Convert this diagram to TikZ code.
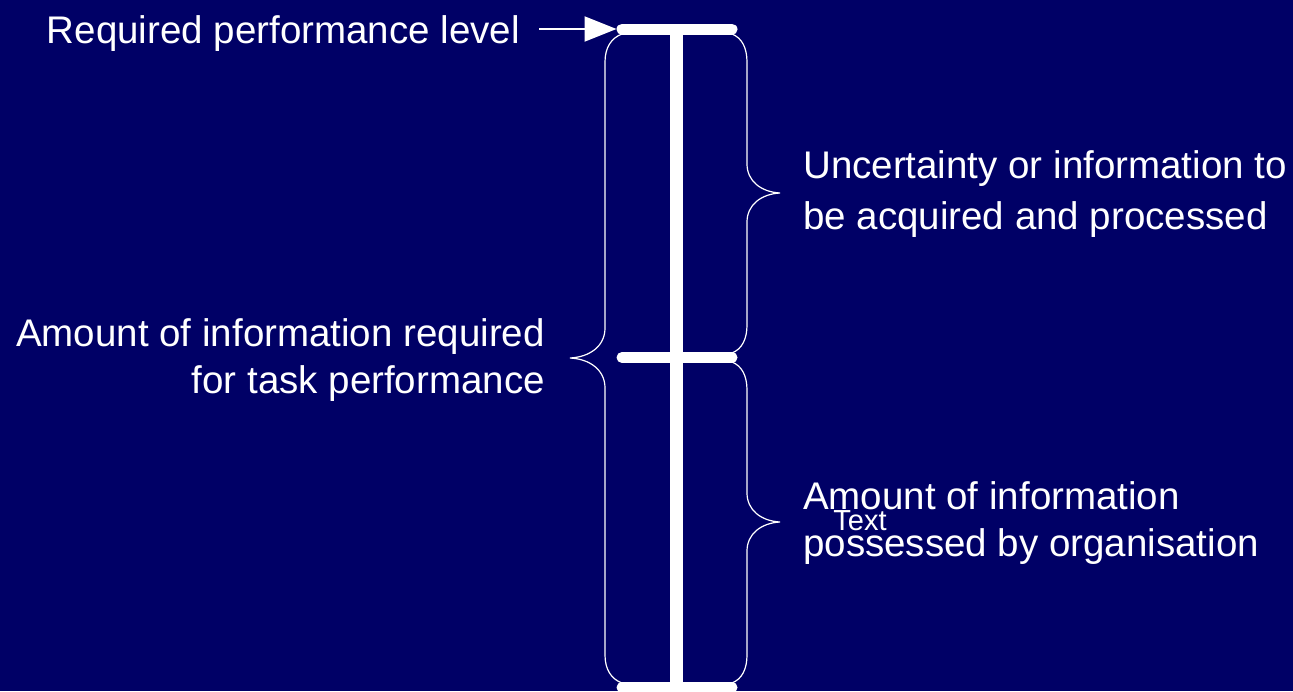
\documentclass[tikz,border=0pt]{standalone}
\usepackage{fontspec}
\setmainfont{Liberation Sans}
\usetikzlibrary{arrows.meta}
\definecolor{navy}{RGB}{0,0,102}
\begin{document}
\begin{tikzpicture}[x=1pt,y=-1pt,
  bar/.style={white,line width=11pt,line cap=round},
  stem/.style={white,line width=13pt},
  brace/.style={white,line width=1.2pt},
  lbl/.style={text=white,font=\fontsize{38.5}{47}\selectfont,inner sep=0pt},
  pointer/.style={white,line width=2pt,-{Triangle[length=32pt,width=25pt]}},
]
% background
\fill[navy] (0,0) rectangle (1293,691);
\useasboundingbox (0,0) rectangle (1293,691);

% level marks
\coordinate (tl) at (622,29);   \coordinate (tr) at (732,29);
\coordinate (ml) at (622,357.5);\coordinate (mr) at (732,357.5);
\coordinate (bl) at (622,687.5);\coordinate (br) at (732,687.5);
\coordinate (stemtop) at (676,29); \coordinate (stembot) at (676,691);

\draw[stem] (stemtop) -- (stembot);
\draw[bar] (tl) -- (tr);
\draw[bar] (ml) -- (mr);
\draw[bar] (bl) -- (br);

% left brace: whole range
\draw[brace] (622,34) .. controls (611,38) and (605,48) .. (605,62)
  -- (605,328) .. controls (605,346) and (590,357) .. (570,358)
  .. controls (590,359) and (605,370) .. (605,388)
  -- (605,655) .. controls (605,669) and (611,679) .. (622,683);

% right brace: upper part
\draw[brace] (732,34) .. controls (742,38) and (747,48) .. (747,62)
  -- (747,164) .. controls (747,181) and (761,192) .. (780,193)
  .. controls (761,194) and (747,205) .. (747,222)
  -- (747,325) .. controls (747,339) and (742,349) .. (732,353);

% right brace: lower part
\draw[brace] (732,362) .. controls (742,366) and (747,376) .. (747,390)
  -- (747,493) .. controls (747,510) and (761,521) .. (780,522)
  .. controls (761,523) and (747,534) .. (747,551)
  -- (747,655) .. controls (747,669) and (742,679) .. (732,683);

% labels
\node[lbl,anchor=base east] (req) at (520,43) {Required performance level};
\node[lbl,anchor=east,align=right] (total) at (545,360)
  {Amount of information required\\for task performance};
\node[lbl,anchor=west,align=left,font=\fontsize{38.5}{51}\selectfont] (unc) at (803,194)
  {Uncertainty or information to\\be acquired and processed};
\node[lbl,anchor=west,align=left] (have) at (803,523)
  {Amount of information\\possessed by organisation};
\node[text=white,font=\fontsize{29}{33}\selectfont,inner sep=0pt] (txt) at (860,521) {Text};

% pointer to the required level
\draw[pointer,shorten >=5.5pt] ([xshift=19pt]req.east |- tl) -- (tl);
\end{tikzpicture}
\end{document}
